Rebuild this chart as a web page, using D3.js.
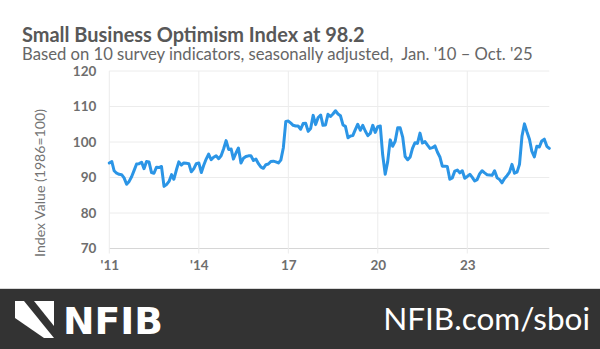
<!DOCTYPE html>
<html>
<head>
<meta charset="utf-8">
<script src="https://cdn.jsdelivr.net/npm/d3@7"></script>
<style>
  html, body { margin: 0; padding: 0; background: #fff; }
  svg { display: block; font-family: Lato, "Open Sans", sans-serif; }
</style>
</head>
<body>
<svg id="chart"></svg>
<script>
// monthly index values, Jan..Dec, one array per year
const y2011 = [94.1, 94.5, 91.9, 91.2, 90.9, 90.8, 89.9, 88.1, 88.9, 90.2, 92.0, 93.8]
const y2012 = [93.9, 94.3, 92.5, 94.5, 94.4, 91.4, 91.2, 92.9, 92.8, 93.1, 87.5, 88.0]
const y2013 = [88.9, 90.8, 89.5, 92.1, 94.4, 93.5, 94.1, 94.0, 93.9, 91.6, 92.5, 93.9]
const y2014 = [94.1, 91.4, 93.4, 95.2, 96.6, 95.0, 95.7, 96.1, 95.3, 96.1, 98.1, 100.4]
const y2015 = [97.9, 98.0, 95.2, 96.9, 98.3, 94.1, 95.4, 95.9, 96.1, 96.1, 94.8, 95.2]
const y2016 = [93.9, 92.9, 92.6, 93.6, 93.8, 94.5, 94.6, 94.4, 94.1, 94.9, 98.4, 105.8]
const y2017 = [105.9, 105.3, 104.7, 104.5, 104.5, 103.6, 105.2, 105.3, 103.0, 103.8, 107.5, 104.9]
const y2018 = [106.9, 107.6, 104.7, 104.8, 107.8, 107.2, 107.9, 108.8, 107.9, 107.4, 104.8, 104.4]
const y2019 = [101.2, 101.7, 101.8, 103.5, 105.0, 103.3, 104.7, 103.1, 101.8, 102.4, 104.7, 102.7]
const y2020 = [104.3, 104.5, 96.4, 90.9, 94.4, 100.6, 98.8, 100.2, 104.0, 104.0, 101.4, 95.9]
const y2021 = [95.0, 95.8, 98.2, 99.8, 99.6, 102.5, 99.7, 100.1, 99.1, 98.2, 98.4, 98.9]
const y2022 = [97.1, 95.7, 93.2, 93.2, 93.1, 89.5, 89.9, 91.8, 92.1, 91.3, 91.9, 89.8]
const y2023 = [90.3, 90.9, 90.1, 89.0, 89.4, 91.0, 91.9, 91.3, 90.8, 90.7, 90.6, 91.9]
const y2024 = [89.9, 89.4, 88.5, 89.7, 90.5, 91.5, 93.7, 91.2, 91.5, 93.7, 101.7, 105.1]
const y2025 = [102.8, 100.7, 97.4, 95.8, 98.8, 98.6, 100.3, 100.8, 98.8, 98.2]

const years = [2011, 2012, 2013, 2014, 2015, 2016, 2017, 2018, 2019, 2020, 2021, 2022, 2023, 2024, 2025]
const byYear = [y2011, y2012, y2013, y2014, y2015, y2016, y2017, y2018, y2019, y2020, y2021, y2022, y2023, y2024, y2025]

const yTicks = [70, 80, 90, 100, 110, 120]
const xTickYears = [2011, 2014, 2017, 2020, 2023]
const xTickLabels = ["'11", "'14", "17", "20", "23"]

const title = "Small Business Optimism Index at 98.2"
const subtitle = "Based on 10 survey indicators, seasonally adjusted,  Jan. '10 \u2013 Oct. '25"
const yTitle = "Index Value (1986=100)"
const siteText = "NFIB.com/sboi"

const width = 600, height = 349
const plot = { left: 109.3, right: 549.3, top: 71, bottom: 248.5 }

const data = []
byYear.forEach((vals, i) => vals.forEach((v, m) => data.push({ date: new Date(years[i], m, 1), value: v })))

const svg = d3.select('#chart')
    .attr('width', width)
    .attr('height', height)

const x = d3.scaleTime()
    .domain([data[0].date, data[data.length - 1].date])
    .range([plot.left, plot.right])

const y = d3.scaleLinear()
    .domain([70, 120])
    .range([plot.bottom, plot.top])

// fit a text element to a target width by adjusting its font size
const fit = (sel, target) => {
    const fs = parseFloat(sel.attr('font-size'))
    const w = sel.node().getComputedTextLength()
    sel.attr('font-size', (fs * target / w).toFixed(2))
}

// titles
svg.append('text')
    .attr('x', 22).attr('y', 41.5)
    .attr('font-size', 20).attr('font-weight', 700)
    .attr('fill', '#585858')
    .text(title)
    .call(fit, 343)

svg.append('text')
    .attr('x', 22).attr('y', 59.5)
    .attr('font-size', 15)
    .attr('fill', '#666')
    .style('white-space', 'pre')
    .text(subtitle)
    .call(fit, 511)

// grid
const grid = svg.append('g')
grid.selectAll('.hgrid')
    .data(yTicks)
    .join('line')
    .attr('x1', plot.left).attr('x2', plot.right)
    .attr('y1', d => y(d)).attr('y2', d => y(d))
    .attr('stroke', d => d === 70 ? '#d6d6d6' : '#ececec')
    .attr('stroke-width', 1)

grid.selectAll('.vgrid')
    .data(xTickYears)
    .join('line')
    .attr('x1', d => x(new Date(d, 0, 1))).attr('x2', d => x(new Date(d, 0, 1)))
    .attr('y1', plot.top).attr('y2', plot.bottom + 5)
    .attr('stroke', '#ececec')
    .attr('stroke-width', 1)

// axes
const yAxis = svg.append('g')
    .attr('transform', `translate(${plot.left},0)`)
    .call(d3.axisLeft(y).tickValues(yTicks).tickSize(0).tickPadding(13))
yAxis.select('.domain').remove()
yAxis.selectAll('text')
    .attr('font-family', 'Lato, sans-serif')
    .attr('font-size', 13.5).attr('font-weight', 700)
    .attr('fill', '#6e6e6e')

const xAxis = svg.append('g')
    .attr('transform', `translate(0,${plot.bottom})`)
    .call(d3.axisBottom(x)
        .tickValues(xTickYears.map(d => new Date(d, 0, 1)))
        .tickFormat((d, i) => xTickLabels[i])
        .tickSize(0).tickPadding(12))
xAxis.select('.domain').remove()
xAxis.selectAll('text')
    .attr('font-family', 'Lato, sans-serif')
    .attr('font-size', 13.5).attr('font-weight', 700)
    .attr('fill', '#6e6e6e')

svg.append('text')
    .attr('transform', 'translate(45,183) rotate(-90)')
    .attr('text-anchor', 'middle')
    .attr('font-size', 14)
    .attr('fill', '#737373')
    .text(yTitle)
    .call(fit, 148)

// line
const line = d3.line()
    .x(d => x(d.date))
    .y(d => y(d.value))

svg.append('path')
    .datum(data)
    .attr('d', line)
    .attr('fill', 'none')
    .attr('stroke', '#2b95e6')
    .attr('stroke-width', 3)
    .attr('stroke-linejoin', 'round')
    .attr('stroke-linecap', 'round')

// footer band
const footer = svg.append('g')
footer.append('rect')
    .attr('x', 0).attr('y', 289)
    .attr('width', width).attr('height', height - 289)
    .attr('fill', '#333333')
footer.append('line')
    .attr('x1', 0).attr('x2', width)
    .attr('y1', 288.5).attr('y2', 288.5)
    .attr('stroke', '#d8d8d8')

// logo mark
footer.append('path')
    .attr('d', 'M15,301 L24,301 L54,338 L44,338 L15,318 Z')
    .attr('fill', '#fff')
footer.append('path')
    .attr('d', 'M34,301 L54,301 L54,326 Z')
    .attr('fill', '#fff')

footer.append('text')
    .attr('x', 63).attr('y', 334)
    .attr('font-family', '"DejaVu Sans", sans-serif')
    .attr('font-size', 36).attr('font-weight', 700)
    .attr('fill', '#fff')
    .text('NFIB')
    .call(fit, 100)

footer.append('text')
    .attr('x', 590).attr('y', 330)
    .attr('text-anchor', 'end')
    .attr('font-size', 27)
    .attr('fill', '#fff')
    .text(siteText)
    .call(fit, 207)
</script>
</body>
</html>
